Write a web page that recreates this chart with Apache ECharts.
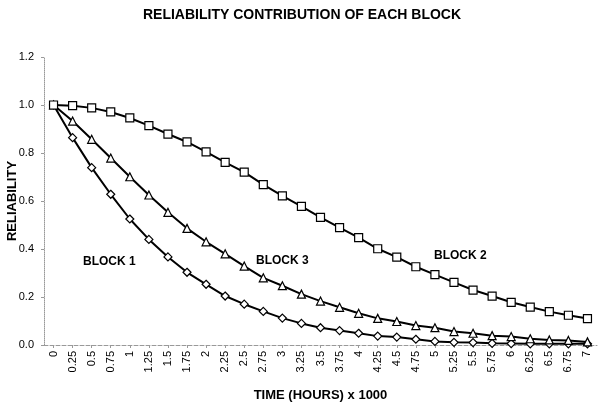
<!DOCTYPE html>
<html>
<head>
<meta charset="utf-8">
<script src="https://cdn.jsdelivr.net/npm/echarts@6/dist/echarts.min.js"></script>
<style>html,body{margin:0;padding:0;background:#fff}#c{width:600px;height:404px}</style>
</head>
<body>
<div id="c"></div>
<script>
var categories = ['0','0.25','0.5','0.75','1','1.25','1.5','1.75','2','2.25','2.5','2.75','3','3.25','3.5','3.75','4','4.25','4.5','4.75','5','5.25','5.5','5.75','6','6.25','6.5','6.75','7'];
var block1 = [1.0,0.864,0.739,0.628,0.525,0.440,0.367,0.303,0.253,0.204,0.170,0.140,0.112,0.090,0.072,0.060,0.049,0.037,0.033,0.024,0.015,0.011,0.010,0.007,0.006,0.005,0.005,0.005,0.005];
var block2 = [1.0,0.997,0.988,0.971,0.946,0.914,0.879,0.846,0.805,0.761,0.720,0.668,0.621,0.578,0.532,0.489,0.447,0.401,0.366,0.326,0.293,0.261,0.229,0.204,0.178,0.158,0.139,0.124,0.110];
var block3 = [1.0,0.933,0.857,0.779,0.701,0.625,0.553,0.486,0.430,0.380,0.329,0.280,0.247,0.212,0.183,0.157,0.132,0.111,0.098,0.081,0.072,0.056,0.049,0.039,0.035,0.026,0.021,0.019,0.013];
var yTicks = [0,0.2,0.4,0.6,0.8,1.0,1.2];

var FONT = 'Liberation Sans, Arial, sans-serif';
var chart = echarts.init(document.getElementById('c'));
function mkSeries(name, data, symbol, size) {
  return {
    name: name, type: 'line', data: data,
    symbol: symbol, symbolSize: size, showAllSymbol: true,
    lineStyle: {color: '#000', width: 2},
    itemStyle: {color: '#fff', borderColor: '#000', borderWidth: 1.2},
    animation: false, z: 3
  };
}
chart.setOption({
  animation: false,
  title: {
    text: 'RELIABILITY CONTRIBUTION OF EACH BLOCK',
    left: 297, top: 3, textAlign: 'center',
    textStyle: {fontFamily: FONT, fontSize: 14, fontWeight: 'bold', color: '#000'}
  },
  grid: {left: 44, right: 3, top: 57, bottom: 59, containLabel: false, outerBoundsMode: 'none'},
  xAxis: {
    type: 'category', data: categories, boundaryGap: true,
    name: 'TIME (HOURS) x 1000', nameLocation: 'middle', nameGap: 44, nameMoveOverlap: false,
    nameTextStyle: {fontFamily: FONT, fontSize: 13, fontWeight: 'bold', color: '#000'},
    axisLine: {lineStyle: {color: '#999', type: 'dashed', width: 1}},
    axisTick: {show: true, alignWithLabel: true, length: 3, lineStyle: {color: '#999'}},
    axisLabel: {interval: 0, rotate: 90, fontFamily: FONT, fontSize: 11, color: '#000', margin: 6},
    splitLine: {show: false}
  },
  yAxis: {
    type: 'value', min: 0, max: 1.2, interval: 0.2,
    name: 'RELIABILITY', nameLocation: 'middle', nameGap: 25, nameRotate: 90, nameMoveOverlap: false,
    nameTextStyle: {fontFamily: FONT, fontSize: 13, fontWeight: 'bold', color: '#000'},
    axisLine: {show: true, lineStyle: {color: '#999', type: 'dotted', width: 1}},
    axisTick: {show: true, length: 3, lineStyle: {color: '#999'}},
    axisLabel: {fontFamily: FONT, fontSize: 11, color: '#000', margin: 10,
      formatter: function (v) { return v.toFixed(1); }},
    splitLine: {show: false}
  },
  graphic: [
    {type: 'text', left: 83, top: 256, style: {text: 'BLOCK 1', fontFamily: FONT, fontSize: 12, fontWeight: 'bold', fill: '#000'}},
    {type: 'text', left: 256, top: 255, style: {text: 'BLOCK 3', fontFamily: FONT, fontSize: 12, fontWeight: 'bold', fill: '#000'}},
    {type: 'text', left: 434, top: 250, style: {text: 'BLOCK 2', fontFamily: FONT, fontSize: 12, fontWeight: 'bold', fill: '#000'}}
  ],
  series: [
    mkSeries('BLOCK 1', block1, 'diamond', 8),
    mkSeries('BLOCK 3', block3, 'triangle', 8),
    mkSeries('BLOCK 2', block2, 'rect', 8)
  ]
});
</script>
</body>
</html>
